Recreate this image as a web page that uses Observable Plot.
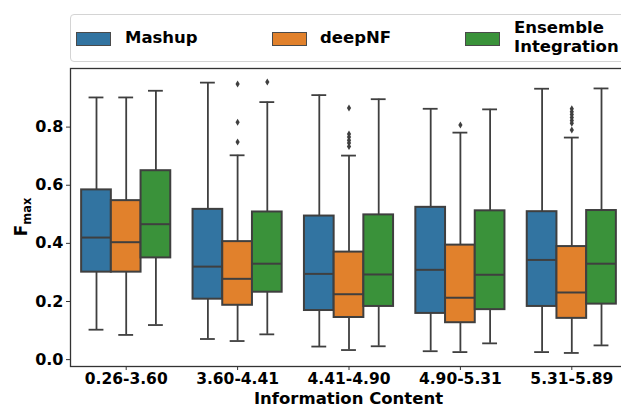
<!DOCTYPE html>
<html>
<head>
<meta charset="utf-8">
<script src="https://cdn.jsdelivr.net/npm/d3@7"></script>
<script src="https://cdn.jsdelivr.net/npm/@observablehq/plot@0.6"></script>
<style>
  html, body { margin: 0; padding: 0; background: #fff; overflow: hidden; }
  #wrap { position: relative; width: 621px; height: 406px; overflow: hidden; font-family: "DejaVu Sans", sans-serif; }
  #chart { position: absolute; left: 0; top: 0; width: 640px; }
  #chart svg { max-width: none !important; width: 640px; height: 406px; }
  #legend { position: absolute; left: 70px; top: 14px; width: 620px; height: 46px; border: 1px solid #d4d4d4; border-radius: 4px; background: #fff; }
  .sw { position: absolute; width: 33px; height: 12px; border: 1px solid #4a4a4a; top: 17px; }
  .lt { position: absolute; font-weight: bold; font-size: 16.5px; color: #000; line-height: 19px; }
</style>
</head>
<body>
<div id="wrap">
  <div id="chart"></div>
  <div id="legend"></div>
</div>
<script>
// ---- data ----
const categories = ["0.26-3.60", "3.60-4.41", "4.41-4.90", "4.90-5.31", "5.31-5.89"];
const methods = ["Mashup", "deepNF", "Ensemble Integration"];
const colors = ["#3274a1", "#e1812c", "#3a923a"];
const yTicks = [0, 0.2, 0.4, 0.6, 0.8];

const mashupLow  = [0.103, 0.071, 0.045, 0.029, 0.026];
const mashupQ1   = [0.301, 0.208, 0.169, 0.159, 0.183];
const mashupMed  = [0.420, 0.320, 0.295, 0.309, 0.343];
const mashupQ3   = [0.584, 0.517, 0.494, 0.524, 0.509];
const mashupHigh = [0.902, 0.953, 0.910, 0.863, 0.932];

const deepnfLow  = [0.085, 0.064, 0.033, 0.026, 0.023];
const deepnfQ1   = [0.301, 0.187, 0.145, 0.127, 0.142];
const deepnfMed  = [0.404, 0.278, 0.225, 0.213, 0.231];
const deepnfQ3   = [0.547, 0.406, 0.370, 0.394, 0.389];
const deepnfHigh = [0.902, 0.703, 0.702, 0.781, 0.764];

const eiLow  = [0.119, 0.087, 0.046, 0.056, 0.049];
const eiQ1   = [0.350, 0.232, 0.183, 0.172, 0.191];
const eiMed  = [0.466, 0.330, 0.293, 0.292, 0.330];
const eiQ3   = [0.650, 0.508, 0.498, 0.512, 0.513];
const eiHigh = [0.925, 0.886, 0.896, 0.861, 0.933];

const mashupOutliers = [[], [], [], [], []];
const deepnfOutliers = [[], [0.948, 0.817, 0.749], [0.866, 0.776, 0.766, 0.755, 0.745, 0.733], [0.807], [0.863, 0.853, 0.843, 0.833, 0.823, 0.813, 0.790]];
const eiOutliers     = [[], [0.955], [], [], []];

// ---- build tables ----
const stats = [
  {low: mashupLow, q1: mashupQ1, med: mashupMed, q3: mashupQ3, high: mashupHigh, out: mashupOutliers},
  {low: deepnfLow, q1: deepnfQ1, med: deepnfMed, q3: deepnfQ3, high: deepnfHigh, out: deepnfOutliers},
  {low: eiLow, q1: eiQ1, med: eiMed, q3: eiQ3, high: eiHigh, out: eiOutliers}
];
const groupWidth = 0.8;
const boxW = groupWidth / methods.length;
const boxes = [];
const outliers = [];
categories.forEach((c, i) => {
  methods.forEach((m, j) => {
    const s = stats[j];
    const pos = i - groupWidth / 2 + boxW * (j + 0.5);
    boxes.push({
      method: m, pos,
      left: pos - boxW / 2, right: pos + boxW / 2,
      capL: pos - boxW / 4, capR: pos + boxW / 4,
      low: s.low[i], q1: s.q1[i], med: s.med[i], q3: s.q3[i], high: s.high[i]
    });
    s.out[i].forEach(v => outliers.push({method: m, pos, value: v}));
  });
});

const thinDiamond = {
  draw(context, size) {
    const h = Math.sqrt(size) * 0.62;
    const w = h * 0.6;
    context.moveTo(0, -h);
    context.lineTo(w, 0);
    context.lineTo(0, h);
    context.lineTo(-w, 0);
    context.closePath();
  }
};

const edge = "#3f3f3f";
const chart = Plot.plot({
  width: 640,
  height: 406,
  marginLeft: 70,
  marginRight: 13,
  marginTop: 68,
  marginBottom: 40,
  style: {fontFamily: "DejaVu Sans, sans-serif", fontSize: "15.5px", fontWeight: "bold", color: "#000", background: "transparent", maxWidth: "none"},
  x: {domain: [-0.5, categories.length - 0.5], label: null},
  y: {domain: [-0.0236, 1.0016], label: null},
  color: {domain: methods, range: colors},
  marks: [
    Plot.ruleX(boxes, {x: "pos", y1: "low", y2: "q1", stroke: edge, strokeWidth: 1.8}),
    Plot.ruleX(boxes, {x: "pos", y1: "q3", y2: "high", stroke: edge, strokeWidth: 1.8}),
    Plot.ruleY(boxes, {y: "low", x1: "capL", x2: "capR", stroke: edge, strokeWidth: 1.8}),
    Plot.ruleY(boxes, {y: "high", x1: "capL", x2: "capR", stroke: edge, strokeWidth: 1.8}),
    Plot.rect(boxes, {x1: "left", x2: "right", y1: "q1", y2: "q3", fill: "method", stroke: edge, strokeWidth: 2}),
    Plot.ruleY(boxes, {y: "med", x1: "left", x2: "right", stroke: edge, strokeWidth: 2}),
    Plot.dot(outliers, {x: "pos", y: "value", symbol: thinDiamond, r: 3.2, fill: edge, stroke: null}),
    Plot.frame({stroke: "#333", strokeWidth: 1.3}),
    Plot.axisY({ticks: yTicks, tickFormat: d3.format(".1f"), tickSize: 4, tickPadding: 3, fontSize: 16, label: null, stroke: "#333", fill: "#000"}),
    Plot.axisX({ticks: d3.range(categories.length), tickFormat: i => categories[i], tickSize: 4, tickPadding: 2, label: null, stroke: "#333", fill: "#000"})
  ]
});
document.getElementById("chart").appendChild(chart);

// axis titles
const svg = d3.select(chart);
svg.append("text")
  .attr("x", 348.5).attr("y", 403.5)
  .attr("text-anchor", "middle")
  .style("font-size", "16.5px").style("font-weight", "bold").attr("fill", "#000")
  .text("Information Content");
const yl = svg.append("text")
  .attr("transform", "translate(27,217) rotate(-90)")
  .attr("text-anchor", "middle")
  .style("font-weight", "bold").attr("fill", "#000");
yl.append("tspan").style("font-size", "16.8px").text("F");
yl.append("tspan").style("font-size", "11.5px").attr("dy", 4).text("max");

// legend
const legend = document.getElementById("legend");
const swLeft = [5, 201, 394];
const txLeft = [54, 249, 443];
methods.forEach((m, j) => {
  const sw = document.createElement("div");
  sw.className = "sw";
  sw.style.left = swLeft[j] + "px";
  sw.style.background = colors[j];
  legend.appendChild(sw);
  const t = document.createElement("div");
  t.className = "lt";
  t.style.left = txLeft[j] + "px";
  if (m === "Ensemble Integration") {
    t.style.top = "3px";
    t.innerHTML = "Ensemble<br>Integration";
  } else {
    t.style.top = "13px";
    t.textContent = m;
  }
  legend.appendChild(t);
});
</script>
</body>
</html>
